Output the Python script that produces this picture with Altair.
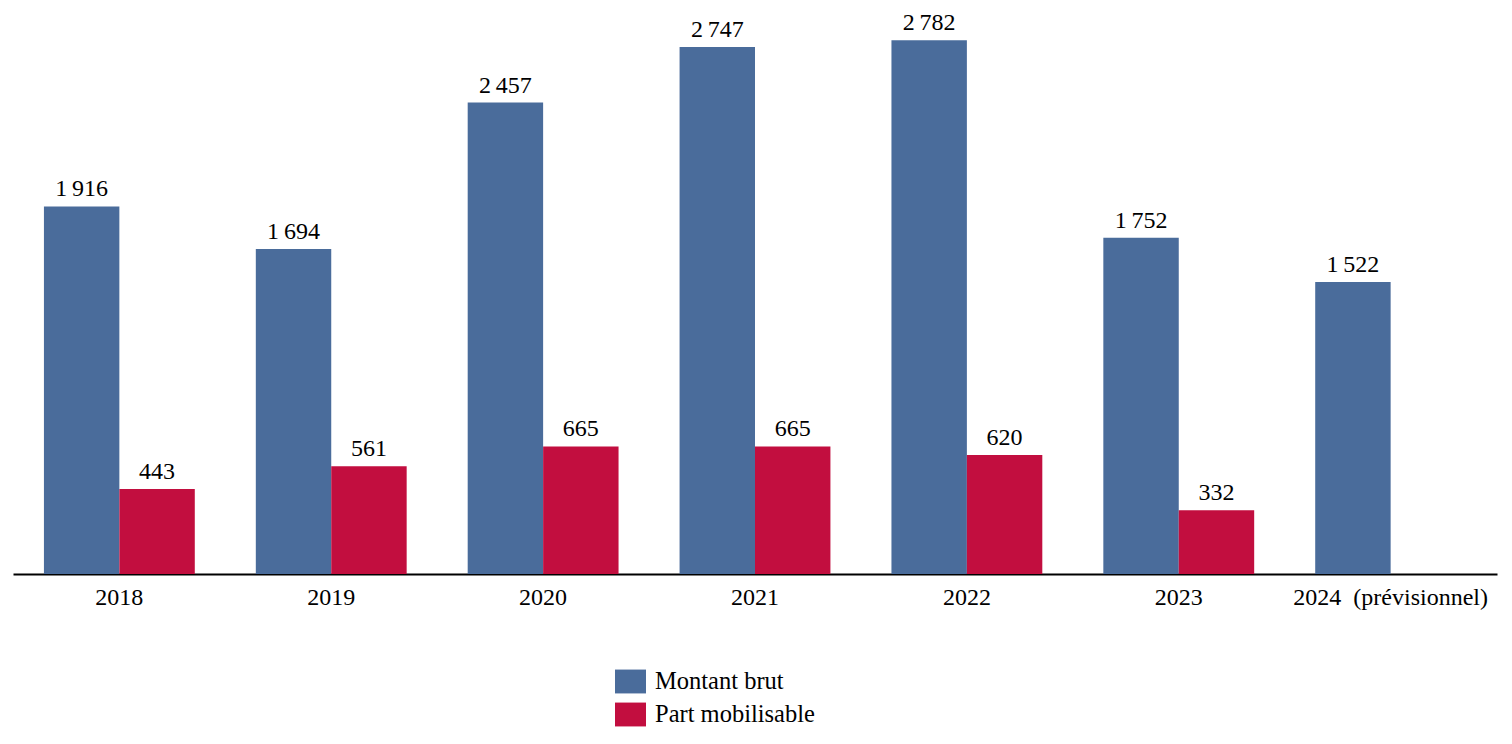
import altair as alt
import pandas as pd

years = ["2018", "2019", "2020", "2021", "2022", "2023", "2024\u00a0\u00a0(prévisionnel)"]
series = ["Montant brut", "Part mobilisable"]
montant_brut = [1916, 1694, 2457, 2747, 2782, 1752, 1522]
part_mobilisable = [443, 561, 665, 665, 620, 332, None]
colors = ["#4A6C9B", "#C20E3F"]

rows = []
for i, y in enumerate(years):
    rows.append({"year": y, "serie": series[0], "v": montant_brut[i]})
    if part_mobilisable[i] is not None:
        rows.append({"year": y, "serie": series[1], "v": part_mobilisable[i]})
df = pd.DataFrame(rows)

FONT = "Liberation Serif"

x = alt.X("year:N", sort=years, title=None,
          scale=alt.Scale(paddingInner=0.288, paddingOuter=0.146),
          axis=alt.Axis(labelAngle=0, labelFont=FONT, labelFontSize=24, labelColor="#000",
                        ticks=False, domainColor="#000", domainWidth=2, labelPadding=11,
                        labelLimit=0))
xo = alt.XOffset("serie:N", sort=series, scale=alt.Scale(paddingInner=0, paddingOuter=0))
y = alt.Y("v:Q", scale=alt.Scale(domain=[0, 2950], nice=False, zero=True), axis=None, title=None)

base = alt.Chart(df)

bars = base.mark_bar().encode(
    x=x, xOffset=xo, y=y,
    color=alt.Color("serie:N", sort=series,
                    scale=alt.Scale(domain=series, range=colors),
                    legend=alt.Legend(title=None, orient="none", legendX=602, legendY=658,
                                      labelFont=FONT, labelFontSize=24.5, labelColor="#000",
                                      symbolType="M-1,-0.77L1,-0.77L1,0.77L-1,0.77Z",
                                      symbolSize=961, symbolStrokeWidth=0, symbolOpacity=1,
                                      rowPadding=5, labelOffset=9, labelLimit=400, padding=0)),
)

labels = base.transform_calculate(
    lbl="replace(format(datum.v, ','), ',', '\u2009')"
).mark_text(font=FONT, fontSize=24, color="#000", baseline="alphabetic", dy=-10).encode(
    x=x, xOffset=xo, y=y, text="lbl:N"
)

chart = alt.layer(bars, labels).properties(
    width=1484, height=566,
    autosize=alt.AutoSizeParams(type="none"),
    padding={"left": 5, "top": 0, "right": 7, "bottom": 160},
).configure_view(stroke=None).configure_bar(stroke=None)

chart.save("out.html", embed_options={"renderer": "svg", "actions": False})
